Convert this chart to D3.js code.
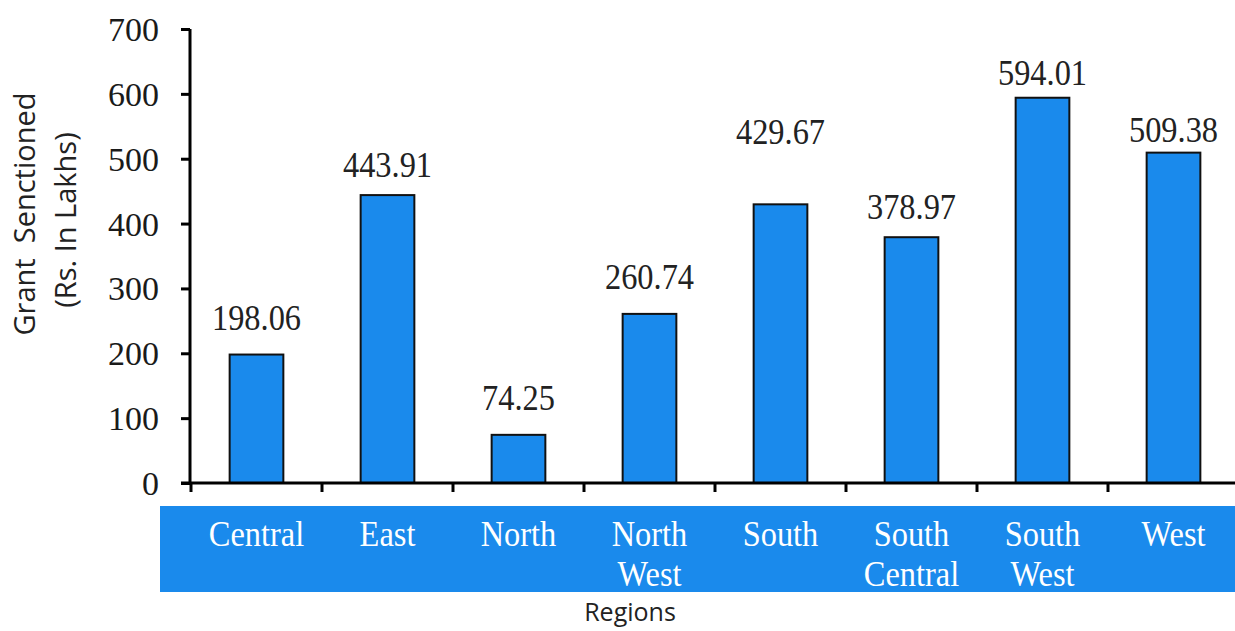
<!DOCTYPE html>
<html>
<head>
<meta charset="utf-8">
<script src="https://cdn.jsdelivr.net/npm/d3@7"></script>
<style>
  html, body { margin: 0; padding: 0; background: #fff; }
  svg { display: block; }
</style>
</head>
<body>
<script>
var regions = ["Central", "East", "North", "North West", "South", "South Central", "South West", "West"];
var grants = [198.06, 443.91, 74.25, 260.74, 429.67, 378.97, 594.01, 509.38];
var yTicks = [0, 100, 200, 300, 400, 500, 600, 700];
var yTitle = ["Grant  Senctioned", "(Rs. In Lakhs)"];
var xTitle = "Regions";

var width = 1235, height = 631;
var blue = "#1a8aec";

var svg = d3.select("body").append("svg")
    .attr("width", width)
    .attr("height", height);

var x = d3.scaleBand()
    .domain(regions)
    .range([191, 1239])
    .paddingInner(0.59)
    .paddingOuter(0.295);

var y = d3.scaleLinear()
    .domain([0, 700])
    .range([483, 29]);

// bars
svg.append("g").selectAll("rect")
    .data(grants).enter()
    .append("rect")
    .attr("x", function(d, i) { return x(regions[i]); })
    .attr("y", function(d) { return y(d); })
    .attr("width", x.bandwidth())
    .attr("height", function(d) { return y(0) - y(d); })
    .attr("fill", blue)
    .attr("stroke", "#111")
    .attr("stroke-width", 2);

// value labels (gap above each bar as in the original)
var labelGap = [25, 18, 25, 25, 60, 18, 13, 11];
svg.append("g").selectAll("text")
    .data(grants).enter()
    .append("text")
    .attr("transform", function(d, i) {
        var cx = x(regions[i]) + x.bandwidth() / 2;
        return "translate(" + cx + "," + (y(d) - labelGap[i]) + ") scale(0.9,1)";
    })
    .attr("text-anchor", "middle")
    .attr("font-family", "'Liberation Serif', 'Times New Roman', serif")
    .attr("font-size", 36)
    .attr("fill", "#222")
    .text(function(d) { return d.toFixed(2); });

// y axis
var yAxis = svg.append("g")
    .attr("transform", "translate(190,0)")
    .call(d3.axisLeft(y).tickValues(yTicks).tickSize(9).tickPadding(22).tickFormat(d3.format("d")));
yAxis.select(".domain").attr("stroke", "#000").attr("stroke-width", 3)
    .attr("d", "M0," + y(700) + "V" + y(0));
yAxis.selectAll(".tick line").attr("stroke", "#000").attr("stroke-width", 3);
yAxis.selectAll(".tick text")
    .attr("font-family", "'Liberation Serif', 'Times New Roman', serif")
    .attr("font-size", 34)
    .attr("fill", "#1a1a1a")
    .attr("dy", "0.34em");

// x axis line with ticks between categories
svg.append("line")
    .attr("x1", 181).attr("x2", width)
    .attr("y1", y(0)).attr("y2", y(0))
    .attr("stroke", "#000").attr("stroke-width", 3);
var bounds = regions.map(function(r) { return x(r) - x.step() * x.paddingInner() / 2; });
svg.append("g").selectAll("line")
    .data(bounds).enter()
    .append("line")
    .attr("x1", function(d) { return d; })
    .attr("x2", function(d) { return d; })
    .attr("y1", y(0))
    .attr("y2", y(0) + 9)
    .attr("stroke", "#000")
    .attr("stroke-width", 3);

// blue band with category names
svg.append("rect")
    .attr("x", 160).attr("y", 506)
    .attr("width", width - 160).attr("height", 86)
    .attr("fill", blue);

var cat = svg.append("g").selectAll("text")
    .data(regions).enter()
    .append("text")
    .attr("transform", function(d) {
        return "translate(" + (x(d) + x.bandwidth() / 2) + ",546) scale(0.9,1)";
    })
    .attr("text-anchor", "middle")
    .attr("font-family", "'Liberation Serif', 'Times New Roman', serif")
    .attr("font-size", 36)
    .attr("fill", "#fff");
cat.selectAll("tspan")
    .data(function(d) { return d.split(" "); }).enter()
    .append("tspan")
    .attr("x", 0)
    .attr("y", function(d, i) { return i * 40; })
    .text(function(d) { return d; });

// axis titles
svg.append("text")
    .attr("x", 630).attr("y", 621)
    .attr("text-anchor", "middle")
    .attr("font-family", "'Open Sans', 'Noto Sans', sans-serif")
    .attr("font-size", 25)
    .attr("fill", "#222")
    .text(xTitle);

svg.append("g").selectAll("text")
    .data(yTitle).enter()
    .append("text")
    .attr("transform", function(d, i) {
        return i === 0 ? "translate(35,214) rotate(-90)" : "translate(76,220) rotate(-90)";
    })
    .attr("text-anchor", "middle")
    .attr("font-family", "'Open Sans', 'Noto Sans', sans-serif")
    .attr("font-size", 29)
    .attr("fill", "#222")
    .attr("xml:space", "preserve")
    .style("white-space", "pre")
    .text(function(d) { return d; });
</script>
</body>
</html>
